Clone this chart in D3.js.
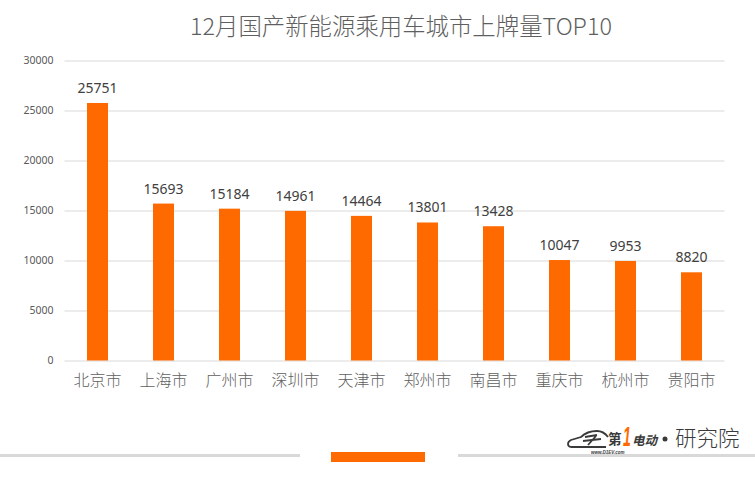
<!DOCTYPE html>
<html>
<head>
<meta charset="utf-8">
<script src="https://cdn.jsdelivr.net/npm/d3@7"></script>
<style>
  html, body { margin: 0; padding: 0; background: #fff; }
  svg { display: block; }
  text { font-family: "Noto Sans CJK SC", "Noto Sans", sans-serif; }
</style>
</head>
<body>
<svg id="chart" width="755" height="484"></svg>
<script>
const titre = "12月国产新能源乘用车城市上牌量TOP10";
const villes = ["北京市", "上海市", "广州市", "深圳市", "天津市", "郑州市", "南昌市", "重庆市", "杭州市", "贵阳市"];
const valeurs = [25751, 15693, 15184, 14961, 14464, 13801, 13428, 10047, 9953, 8820];
const graduations = [0, 5000, 10000, 15000, 20000, 25000, 30000];

const svg = d3.select("#chart");

const x = d3.scaleBand().domain(villes).range([64.5, 724.5]).padding(0);
const y = d3.scaleLinear().domain([0, 30000]).range([360.5, 60.5]);
const largeurBarre = 21;

// titre
svg.append("text")
    .attr("x", 401)
    .attr("y", 35)
    .attr("text-anchor", "middle")
    .attr("font-size", 23.4)
    .attr("font-weight", 300)
    .attr("fill", "#5f5f5f")
    .text(titre);

// axe y + grille
const axeY = d3.axisLeft(y).tickValues(graduations).tickSize(0).tickPadding(11).tickFormat(d3.format("d"));
const gY = svg.append("g").attr("transform", "translate(64.5,0)").call(axeY);
gY.select(".domain").remove();
gY.selectAll("text").attr("font-size", 10.5).attr("fill", "#595959")
    .style("font-family", "'Noto Sans', sans-serif");
gY.selectAll(".tick line")
    .attr("x2", 660)
    .attr("stroke", "#d9d9d9")
    .attr("stroke-width", 1);

// barres
svg.selectAll(".barre")
    .data(valeurs)
    .join("rect")
    .attr("class", "barre")
    .attr("x", (d, i) => x(villes[i]) + x.bandwidth() / 2 - largeurBarre / 2)
    .attr("y", d => y(d))
    .attr("width", largeurBarre)
    .attr("height", d => y(0) - y(d))
    .attr("fill", "#ff6a00");

// etiquettes
svg.selectAll(".etiquette")
    .data(valeurs)
    .join("text")
    .attr("class", "etiquette")
    .attr("x", (d, i) => x(villes[i]) + x.bandwidth() / 2)
    .attr("y", d => y(d) - 10)
    .attr("text-anchor", "middle")
    .attr("font-size", 14)
    .attr("fill", "#404040")
    .style("font-family", "'Noto Sans', sans-serif")
    .text(d => d);

// axe x
const axeX = d3.axisBottom(x).tickSize(0).tickPadding(14);
const gX = svg.append("g").attr("transform", "translate(0,360.5)").call(axeX);
gX.select(".domain").remove();
gX.selectAll("text").attr("font-size", 16).attr("font-weight", 300).attr("fill", "#5f5f5f");

// bas de page
svg.append("rect").attr("x", 0).attr("y", 454).attr("width", 300).attr("height", 3).attr("fill", "#d9d9d9");
svg.append("rect").attr("x", 458).attr("y", 454).attr("width", 297).attr("height", 3).attr("fill", "#d9d9d9");
svg.append("rect").attr("x", 331).attr("y", 452).attr("width", 94).attr("height", 10).attr("fill", "#ff6a00");

// logo
const logo = svg.append("g");
logo.append("path")
    .attr("d", "M578 447 L571 447 C567 446 567 442 571 440 L581 437 C585 433 590 431 597 431 C602 431 605 433 608 437 M578 447 L606 447")
    .attr("fill", "none")
    .attr("stroke", "#3a3a3a")
    .attr("stroke-width", 1.8);
logo.append("path")
    .attr("d", "M585 437 L597 435 M583 441 L601 439 M588 445 L596 436")
    .attr("fill", "none")
    .attr("stroke", "#3a3a3a")
    .attr("stroke-width", 1.8);
logo.append("text").attr("x", 608).attr("y", 444).attr("font-size", 13.5).attr("font-weight", 700).attr("fill", "#3a3a3a").text("第");
logo.append("text")
    .attr("transform", "translate(623,446) scale(1,2)")
    .attr("font-size", 14).attr("font-weight", 700).attr("font-style", "italic").attr("fill", "#ff6a00")
    .style("font-family", "'Liberation Sans', sans-serif")
    .text("1");
logo.append("text").attr("x", 632).attr("y", 445).attr("font-size", 12.5).attr("font-weight", 700).attr("font-style", "italic").attr("fill", "#3a3a3a").text("电动");
logo.append("text").attr("x", 591).attr("y", 453.5).attr("font-size", 4.5).attr("font-weight", 700).attr("font-style", "italic").attr("fill", "#3a3a3a")
    .style("font-family", "'Liberation Sans', sans-serif").text("www.D1EV.com");
logo.append("circle").attr("cx", 665).attr("cy", 439).attr("r", 2.5).attr("fill", "#3a3a3a");
logo.append("text").attr("x", 675).attr("y", 446).attr("font-size", 21.5).attr("font-weight", 300).attr("fill", "#3a3a3a").text("研究院");
</script>
</body>
</html>
